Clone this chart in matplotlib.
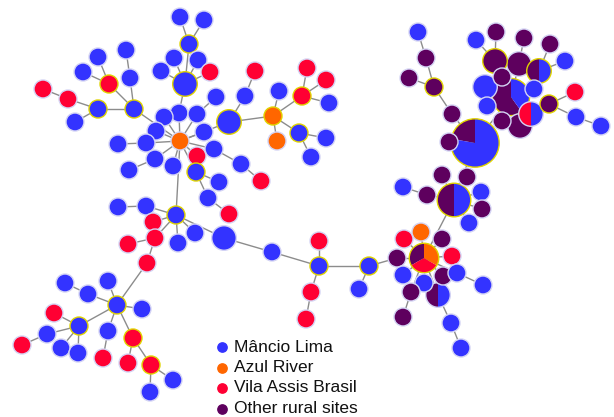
import numpy as np
import matplotlib
matplotlib.use("Agg")
import matplotlib.pyplot as plt
from matplotlib.patches import Circle, Wedge

# groups
groups = ["Mâncio Lima", "Azul River", "Vila Assis Brasil", "Other rural sites"]
group_colors = ["#3333ff", "#ff6600", "#ff0033", "#5e005e"]

# haplotype layout (pixel coords of the network drawing) and counts per group [B, O, R, P]
node_x = [180, 204, 189, 174, 198, 210, 161, 185, 126, 130, 98, 83, 109, 43, 68, 98, 75, 134,
          179, 164, 197, 216, 156, 204, 180, 146, 118, 155, 129, 173, 197, 214, 241, 261,
          196, 219, 208, 229, 229, 245, 255, 273, 279, 277, 302, 307, 326, 329, 299, 326, 311,
          176, 118, 146, 153, 155, 128, 178, 195, 224, 147, 272, 319, 319, 311, 306, 369, 359,
          117, 65, 88, 108, 142, 79, 54, 47, 22, 61, 78, 108, 103, 133, 128, 151, 173, 150,
          424, 397, 421, 404, 442, 452, 403, 424, 443, 457, 483, 411, 403, 438, 451, 461,
          454, 442, 467, 427, 403, 481, 482, 469,
          475, 449, 452, 434, 409, 426, 418, 511, 502, 485, 487, 502, 520, 534, 531, 519,
          495, 476, 496, 524, 539, 550, 565, 549, 575, 576, 601]
node_y = [17, 20, 44, 58, 60, 72, 71, 84, 50, 78, 57, 72, 84, 89, 99, 109, 122, 109,
          113, 117, 114, 97, 131, 132, 141, 143, 144, 159, 170, 166, 156, 149, 164, 181,
          172, 182, 198, 214, 122, 96, 71, 116, 91, 141, 96, 68, 80, 103, 133, 138, 157,
          215, 207, 206, 222, 238, 244, 243, 233, 238, 263, 252, 266, 241, 292, 319, 266, 289,
          305, 283, 294, 281, 309, 326, 313, 334, 345, 348, 353, 331, 358, 338, 363, 365, 380, 392,
          258, 258, 232, 239, 239, 256, 275, 283, 276, 273, 285, 292, 317, 295, 323, 348,
          200, 175, 177, 195, 187, 192, 209, 223,
          143, 142, 114, 87, 78, 58, 32, 97, 77, 87, 106, 121, 126, 89, 114, 64,
          61, 40, 32, 38, 71, 44, 61, 104, 92, 117, 126]

B, O, R, P = [1, 0, 0, 0], [0, 1, 0, 0], [0, 0, 1, 0], [0, 0, 0, 1]
node_counts = [B, B, B, B, B, R, B, [2, 0, 0, 0], B, B, B, B, R, R, R, B, B, B,
               B, B, B, B, B, B, O, B, B, B, B, B, R, B, B, R,
               B, B, B, R, [2, 0, 0, 0], B, R, O, B, O, R, R, R, B, B, B, B,
               B, B, B, R, R, R, B, B, [2, 0, 0, 0], R, B, B, R, R, R, B, B,
               B, B, B, B, B, B, R, B, R, B, B, B, R, R, R, R, B, B,
               [0, 1, 1, 1], P, O, R, P, R, B, B, P, B, B, P, P, [1, 0, 0, 1], B, B,
               [2, 0, 0, 2], P, P, P, B, B, P, B,
               [7, 0, 0, 2], P, P, P, P, P, B, [2, 0, 0, 3], P, [2, 0, 0, 0], B, P,
               [0, 0, 0, 2], B, [1, 0, 1, 0], [0, 0, 0, 2],
               [0, 0, 0, 2], B, P, P, [1, 0, 0, 1], P, B, P, R, B, B]

edges = [(0, 2), (1, 2), (2, 7), (3, 7), (4, 7), (5, 7), (6, 7), (7, 18), (18, 24),
         (8, 9), (9, 17), (10, 12), (11, 12), (12, 17), (13, 14), (14, 15), (16, 15), (15, 17), (17, 24),
         (19, 24), (20, 24), (21, 20), (22, 24), (23, 24), (25, 24), (26, 25), (27, 24), (28, 27),
         (29, 24), (30, 24), (31, 24), (32, 31), (33, 32), (34, 24), (35, 34), (36, 34), (37, 36),
         (38, 24), (39, 38), (40, 39), (38, 41), (42, 41), (43, 41), (44, 41), (45, 44), (46, 44),
         (47, 44), (48, 41), (49, 48), (50, 48), (24, 51),
         (52, 53), (53, 51), (54, 51), (55, 51), (56, 55), (57, 51), (58, 51), (59, 51), (60, 55), (60, 68),
         (59, 61), (61, 62), (63, 62), (64, 62), (65, 64), (62, 66), (67, 66), (66, 87), (87, 86),
         (69, 70), (70, 68), (71, 68), (72, 68), (73, 68), (74, 73), (75, 73), (76, 75), (77, 73),
         (78, 73), (79, 68), (80, 79), (81, 68), (82, 81), (83, 81), (84, 83), (85, 83),
         (88, 86), (89, 86), (90, 86), (91, 86), (92, 86), (93, 86), (94, 86), (95, 86), (96, 95),
         (97, 86), (98, 97), (99, 86), (100, 99), (101, 100),
         (86, 102), (103, 102), (104, 102), (105, 102), (106, 105), (107, 102), (108, 102), (109, 102),
         (102, 110), (111, 110), (112, 110), (113, 112), (114, 113), (115, 113), (116, 115),
         (110, 117), (118, 117), (119, 117), (120, 117), (121, 117), (122, 117), (123, 117), (124, 117),
         (125, 117), (126, 118), (127, 126), (128, 126), (129, 125), (130, 123), (131, 130), (132, 130),
         (133, 124), (134, 133), (135, 133), (136, 135)]

# nodes drawn with a yellow rim
hubs = [2, 7, 12, 15, 17, 38, 41, 44, 48, 34, 51, 68, 73, 81, 83, 62, 66,
        86, 102, 110, 113, 126, 130, 133, 117]

fig = plt.figure(figsize=(6.14, 4.17), dpi=100)
ax = fig.add_axes([0, 0, 1, 1])
ax.set_xlim(0, 614)
ax.set_ylim(417, 0)
ax.set_aspect("equal")
ax.axis("off")

for a, b in edges:
    ax.plot([node_x[a], node_x[b]], [node_y[a], node_y[b]], color="#8c8c8c", lw=1.0, zorder=1)

radius = [9 * sum(c) ** 0.45 for c in node_counts]
draw_order = sorted(range(len(node_x)), key=lambda i: -radius[i])
z = 2
for i in draw_order:
    x, y, r, c = node_x[i], node_y[i], radius[i], node_counts[i]
    rim = "#e0d400" if i in hubs else "#d4d4f4"
    if sum(1 for v in c if v > 0) == 1:
        g = [k for k in range(4) if c[k] > 0][0]
        ax.add_patch(Circle((x, y), r, fc=group_colors[g], ec=rim, lw=1.0, zorder=z))
    else:
        start = 90.0
        for g in [3, 2, 1, 0]:
            if c[g] == 0:
                continue
            span = 360.0 * c[g] / sum(c)
            ax.add_patch(Wedge((x, y), r, -(start + span), -start, fc=group_colors[g],
                               ec="none", zorder=z))
            start += span
        ax.add_patch(Circle((x, y), r, fc="none", ec=rim, lw=1.0, zorder=z))
    z += 1

# legend
for k, name in enumerate(groups):
    ly = 347 + k * 20.5
    ax.scatter([222], [ly], s=45, color=group_colors[k], zorder=z)
    ax.text(234, ly, name, fontsize=12.5, family="Liberation Sans", va="center", ha="left",
            color="#111111", zorder=z)

fig.savefig("out.png", dpi=100)
